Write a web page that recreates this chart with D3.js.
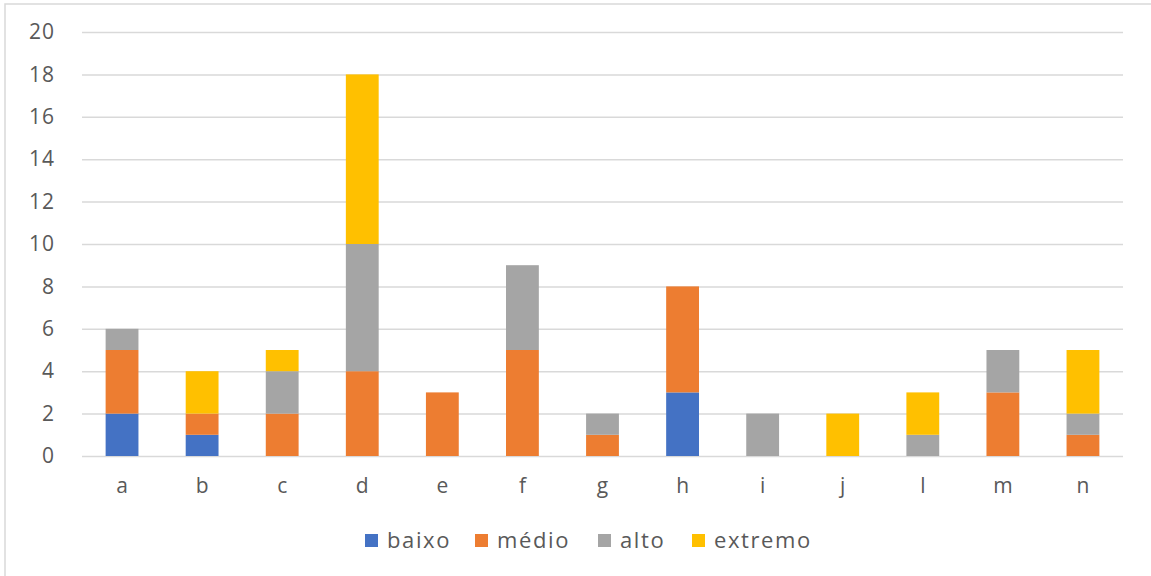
<!DOCTYPE html>
<html>
<head>
<meta charset="utf-8">
<title>Stacked bars</title>
<script src="https://d3js.org/d3.v7.min.js"></script>
<style>
  body { margin: 0; background: #fff; }
  svg text { font-family: "Open Sans", "Noto Sans", sans-serif; fill: #595959; }
</style>
</head>
<body>
<div id="chart"></div>
<script>
// categorias e séries
const categorias = ["a", "b", "c", "d", "e", "f", "g", "h", "i", "j", "l", "m", "n"];
const series = ["baixo", "médio", "alto", "extremo"];
const baixo   = [2, 1, 0, 0, 0, 0, 0, 3, 0, 0, 0, 0, 0];
const medio   = [3, 1, 2, 4, 3, 5, 1, 5, 0, 0, 0, 3, 1];
const alto    = [1, 0, 2, 6, 0, 4, 1, 0, 2, 0, 1, 2, 1];
const extremo = [0, 2, 1, 8, 0, 0, 0, 0, 0, 2, 2, 0, 3];
const yTicks = [0, 2, 4, 6, 8, 10, 12, 14, 16, 18, 20];
const cores = ["#4472C4", "#ED7D31", "#A5A5A5", "#FFC000"];

const valores = [baixo, medio, alto, extremo];
const tabela = categorias.map((c, i) => {
  const row = { cat: c };
  series.forEach((s, k) => row[s] = valores[k][i]);
  return row;
});

const W = 1151, H = 576;
const margin = { top: 32, left: 82, right: W - 1123, bottom: H - 456 };
const w = W - margin.left - margin.right;
const h = H - margin.top - margin.bottom;

const svg = d3.select("#chart").append("svg")
  .attr("width", W).attr("height", H);

// moldura do gráfico
svg.append("rect")
  .attr("x", 5).attr("y", 4)
  .attr("width", W + 10).attr("height", H + 10)
  .attr("fill", "none").attr("stroke", "#d9d9d9").attr("stroke-width", 1.5);

const g = svg.append("g")
  .attr("transform", "translate(" + margin.left + "," + margin.top + ")");

const x = d3.scaleBand().domain(categorias).range([0, w])
  .paddingInner(0.59).paddingOuter(0.295);
const y = d3.scaleLinear().domain([0, 20]).range([h, 0]);

// linhas de grade
g.append("g")
  .call(d3.axisLeft(y).tickValues(yTicks).tickSize(-w).tickFormat(""))
  .call(a => a.select(".domain").remove())
  .call(a => a.selectAll("line").attr("stroke", "#d9d9d9").attr("stroke-width", 1.5));

// rótulos do eixo y
g.append("g")
  .call(d3.axisLeft(y).tickValues(yTicks).tickSize(0).tickPadding(27))
  .call(a => a.select(".domain").remove())
  .call(a => a.selectAll("text").attr("font-size", "21px").attr("fill", "#595959")
    .attr("letter-spacing", "1px"));

const stack = d3.stack().keys(series)(tabela);

g.selectAll(".serie")
  .data(stack)
  .enter().append("g")
  .attr("fill", (d, i) => cores[i])
  .selectAll("rect")
  .data(d => d)
  .enter().append("rect")
  .attr("x", d => x(d.data.cat))
  .attr("y", d => y(d[1]))
  .attr("width", x.bandwidth())
  .attr("height", d => y(d[0]) - y(d[1]));

// eixo x
g.append("g")
  .attr("transform", "translate(0," + h + ")")
  .call(d3.axisBottom(x).tickSize(0).tickPadding(22))
  .call(a => a.select(".domain").remove())
  .call(a => a.selectAll("text").attr("font-size", "21px").attr("fill", "#595959"));

// legenda
const legX = [365, 475, 598, 692];
const leg = svg.append("g");
series.forEach((s, i) => {
  leg.append("rect")
    .attr("x", legX[i]).attr("y", 534)
    .attr("width", 13).attr("height", 13)
    .attr("fill", cores[i]);
  leg.append("text")
    .attr("x", legX[i] + 22).attr("y", 548)
    .attr("font-size", "22px")
    .attr("letter-spacing", "1.6px")
    .text(s);
});
</script>
</body>
</html>
